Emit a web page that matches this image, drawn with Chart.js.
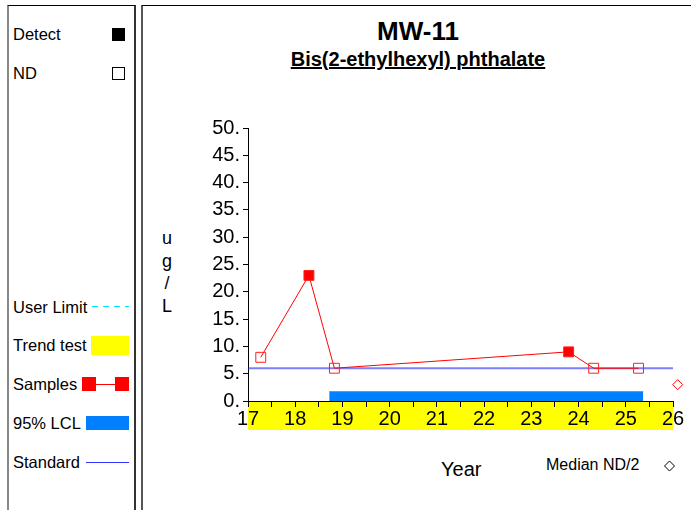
<!DOCTYPE html>
<html>
<head>
<meta charset="utf-8">
<script src="https://cdn.jsdelivr.net/npm/chart.js@4.4.1/dist/chart.umd.min.js"></script>
<style>
    body { margin: 0; width: 691px; height: 510px; overflow: hidden; background: #fff; font-family: "Liberation Sans", Arial, sans-serif; position: relative; }
    .panel { position: absolute; top: 5px; bottom: -2px; border-top: 1px solid #000; }
    #legend-panel { left: 7px; width: 125px; border-left: 2px solid #888; border-right: 2px solid #333; }
    #main-panel { left: 141px; right: 0; border-left: 2px solid #555; }
    .lg { position: absolute; font-size: 16.5px; color: #000; left: 13px; line-height: 19px; }
    .sym { position: absolute; }
    #chart { position: absolute; left: 0; top: 0; }
    .txt { position: absolute; color: #000; white-space: nowrap; }
</style>
</head>
<body>
<div class="panel" id="legend-panel"></div>
<div class="panel" id="main-panel"></div>

<div class="lg" style="top:25px">Detect</div>
<div class="sym" style="left:112px;top:28px;width:13px;height:13px;background:#000"></div>
<div class="lg" style="top:64px">ND</div>
<div class="sym" style="left:112px;top:67px;width:11px;height:11px;border:1px solid #000"></div>

<div class="lg" style="top:298px">User Limit</div>
<div class="sym" style="left:92px;top:306px;width:37px;height:1px;background:repeating-linear-gradient(90deg,#00e5ff 0 6px,transparent 6px 11px)"></div>
<div class="lg" style="top:336px">Trend test</div>
<div class="sym" style="left:91px;top:336px;width:38px;height:19px;background:#ffff00"></div>
<div class="lg" style="top:375px">Samples</div>
<div class="sym" style="left:82px;top:377px;width:14px;height:14px;background:#ff0000"></div>
<div class="sym" style="left:96px;top:384px;width:19px;height:0;border-top:1px solid #ff0000"></div>
<div class="sym" style="left:115px;top:377px;width:14px;height:14px;background:#ff0000"></div>
<div class="lg" style="top:414px">95% LCL</div>
<div class="sym" style="left:86px;top:416px;width:43px;height:14px;background:#0080ff"></div>
<div class="lg" style="top:453px">Standard</div>
<div class="sym" style="left:86px;top:462px;width:43px;height:0;border-top:1px solid #3333ff"></div>

<div class="txt" style="left:318px;width:200px;text-align:center;top:16px;font-size:26px;font-weight:bold">MW-11</div>
<div class="txt" style="left:268px;width:300px;text-align:center;top:48px;font-size:20px;font-weight:bold;text-decoration:underline">Bis(2-ethylhexyl) phthalate</div>
<div class="txt" style="left:159px;width:16px;text-align:center;top:227px;font-size:18px;line-height:22.5px">u<br>g<br>/<br>L</div>
<div class="txt" style="left:441px;top:458px;font-size:20px">Year</div>
<div class="txt" style="left:546px;top:456px;font-size:16px">Median ND/2</div>

<canvas id="chart" width="691" height="510"></canvas>

<script>
const sampleYears = [17.27, 18.29, 18.83, 23.79, 24.32, 25.27];
const sampleValues = [8, 23, 6, 9, 6, 6];
const sampleDetect = [false, true, false, true, false, false];

const standardYears = [17, 26];
const standardValues = [6, 6];

const lclYears = [18.72, 25.37];
const lclValues = [1.7, 1.7];

const medianYears = [26.1];
const medianValues = [3];

const trendYears = [17, 26];

const xTicks = [17, 18, 19, 20, 21, 22, 23, 24, 25, 26];
const yTicks = [0, 5, 10, 15, 20, 25, 30, 35, 40, 45, 50];

const toPoints = (xs, ys) => xs.map((x, i) => ({ x: x, y: ys[i] }));

// yellow trend band under the x axis labels
const trendBand = {
    id: 'trendBand',
    beforeDraw(chart) {
        const { ctx, scales: { x }, chartArea } = chart;
        const x1 = x.getPixelForValue(trendYears[0]);
        const x2 = x.getPixelForValue(trendYears[1]);
        ctx.save();
        ctx.fillStyle = '#ffff00';
        ctx.fillRect(x1, chartArea.bottom, x2 - x1, 29);
        ctx.restore();
    }
};

// legend diamond next to "Median ND/2"
const medianKey = {
    id: 'medianKey',
    afterDraw(chart) {
        const ctx = chart.ctx;
        ctx.save();
        ctx.strokeStyle = '#000';
        ctx.lineWidth = 1;
        ctx.beginPath();
        ctx.moveTo(664.5, 466);
        ctx.lineTo(669.5, 461);
        ctx.lineTo(674.5, 466);
        ctx.lineTo(669.5, 471);
        ctx.closePath();
        ctx.stroke();
        ctx.restore();
    }
};

const font = { family: '"Liberation Sans", Arial, sans-serif', size: 20 };

new Chart(document.getElementById('chart'), {
    type: 'scatter',
    data: {
        datasets: [
            {
                label: 'Samples',
                data: toPoints(sampleYears, sampleValues),
                showLine: true,
                borderColor: '#ff0000',
                borderWidth: 1,
                pointStyle: 'rect',
                pointRadius: 7,
                pointBorderWidth: 1,
                pointBorderColor: '#ff2020',
                pointBackgroundColor: sampleDetect.map(d => d ? '#ff0000' : 'rgba(255,255,255,0)'),
                order: 1
            },
            {
                label: 'Standard',
                data: toPoints(standardYears, standardValues),
                showLine: true,
                borderColor: 'rgba(40,40,255,0.6)',
                borderWidth: 2,
                pointRadius: 0,
                order: 2
            },
            {
                label: '95% LCL',
                data: toPoints(lclYears, lclValues),
                showLine: true,
                fill: 'origin',
                backgroundColor: '#0080ff',
                borderColor: '#2a90ff',
                borderWidth: 1,
                pointRadius: 0,
                order: 3
            },
            {
                label: 'Median ND/2',
                data: toPoints(medianYears, medianValues),
                pointStyle: 'rectRot',
                pointRadius: 5,
                pointBorderWidth: 1,
                pointBorderColor: '#ff0000',
                pointBackgroundColor: 'rgba(255,255,255,0)',
                clip: false,
                order: 0
            }
        ]
    },
    options: {
        responsive: false,
        animation: false,
        events: [],
        layout: {
            padding: { left: 0, top: 128, right: 18, bottom: 79 }
        },
        plugins: {
            legend: { display: false },
            tooltip: { enabled: false }
        },
        scales: {
            x: {
                type: 'linear',
                min: 17,
                max: 26,
                afterFit: (scale) => { scale.height = 30; },
                afterBuildTicks: (scale) => {
                    const t = [];
                    for (let i = 0; i < xTicks.length; i++) {
                        t.push({ value: xTicks[i] });
                        if (i < xTicks.length - 1) t.push({ value: xTicks[i] + 0.5 });
                    }
                    scale.ticks = t;
                },
                grid: { drawOnChartArea: false, drawTicks: true, tickLength: 6, color: '#000', tickColor: '#000' },
                border: { display: true, color: '#000', width: 1 },
                ticks: {
                    autoSkip: false,
                    maxRotation: 0,
                    padding: 0,
                    color: '#000',
                    font: font,
                    callback: (v) => Number.isInteger(v) ? String(v) : ''
                }
            },
            y: {
                min: 0,
                max: 50,
                afterFit: (scale) => { scale.width = 248; },
                afterBuildTicks: (scale) => { scale.ticks = yTicks.map(v => ({ value: v })); },
                grid: { drawOnChartArea: false, drawTicks: true, tickLength: 5, color: '#000', tickColor: '#000' },
                border: { display: true, color: '#000', width: 1 },
                ticks: {
                    padding: 3,
                    color: '#000',
                    font: font,
                    callback: (v) => v + '.'
                }
            }
        }
    },
    plugins: [trendBand, medianKey]
});
</script>
</body>
</html>
